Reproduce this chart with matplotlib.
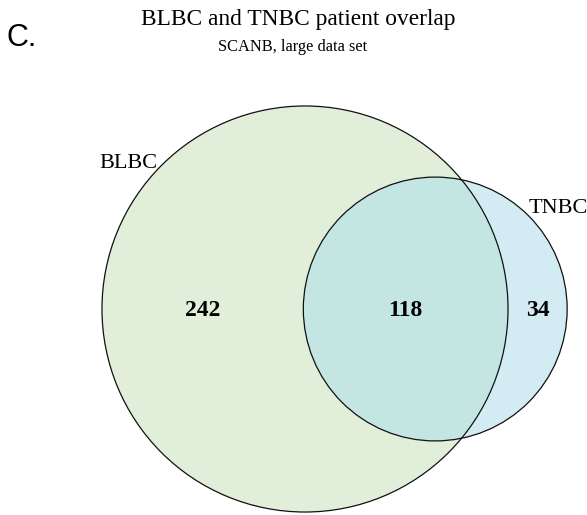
import numpy as np
import matplotlib.pyplot as plt
from matplotlib.patches import Circle

# set sizes
set_names = ['BLBC', 'TNBC']
only_a = 242
both = 118
only_b = 34

title = 'BLBC and TNBC patient overlap'
subtitle = 'SCANB, large data set'
panel = 'C.'

col_a = '#e1eed9'
col_b = '#d3ebf3'
col_ab = '#c4e6e3'


def lens_area(r1, r2, d):
    if d >= r1 + r2:
        return 0.0
    if d <= abs(r1 - r2):
        return np.pi * min(r1, r2) ** 2
    a1 = r1 ** 2 * np.arccos((d ** 2 + r1 ** 2 - r2 ** 2) / (2 * d * r1))
    a2 = r2 ** 2 * np.arccos((d ** 2 + r2 ** 2 - r1 ** 2) / (2 * d * r2))
    a3 = 0.5 * np.sqrt((-d + r1 + r2) * (d + r1 - r2) * (d - r1 + r2) * (d + r1 + r2))
    return a1 + a2 - a3


# area-proportional layout, scaled to pixel units
k = 10.7
r_a = k * np.sqrt(only_a + both)
r_b = k * np.sqrt(only_b + both)
target = both * k ** 2 * np.pi
lo, hi = abs(r_a - r_b), r_a + r_b
for _ in range(100):
    mid = (lo + hi) / 2
    if lens_area(r_a, r_b, mid) > target:
        lo = mid
    else:
        hi = mid
d = (lo + hi) / 2

ca = (305, 309)
cb = (ca[0] + d, ca[1])

fig = plt.figure(figsize=(5.87, 5.15), dpi=100)
ax = fig.add_axes([0, 0, 1, 1])
ax.set_xlim(0, 587)
ax.set_ylim(515, 0)
ax.set_aspect('equal')
ax.axis('off')

circ_a = Circle(ca, r_a, facecolor=col_a, edgecolor='none', zorder=1)
ax.add_patch(circ_a)
ax.add_patch(Circle(cb, r_b, facecolor=col_b, edgecolor='none', zorder=2))
ov = Circle(cb, r_b, facecolor=col_ab, edgecolor='none', zorder=3)
ax.add_patch(ov)
ov.set_clip_path(circ_a)
for c, r in [(ca, r_a), (cb, r_b)]:
    ax.add_patch(Circle(c, r, facecolor='none', edgecolor='#111111', lw=0.9, zorder=4))

# region counts
num_kw = dict(family='Liberation Serif', fontweight='bold', fontsize=17,
              ha='center', va='center', zorder=5)
ax.text(((ca[0] - r_a) + (cb[0] - r_b)) / 2, 310, str(only_a), **num_kw)
ax.text(((cb[0] - r_b) + (ca[0] + r_a)) / 2, 310, str(both), **num_kw)
ax.text(((ca[0] + r_a) + (cb[0] + r_b)) / 2, 310, str(only_b), **num_kw)

# set labels
ang = np.deg2rad(135)
ax.text(ca[0] + r_a * np.cos(ang) - 4, ca[1] - r_a * np.sin(ang) - 2, set_names[0],
        family='Liberation Serif', fontsize=16, ha='right', va='center')
ang = np.deg2rad(47)
ax.text(cb[0] + r_b * np.cos(ang) + 3, cb[1] - r_b * np.sin(ang) - 4, set_names[1],
        family='Liberation Serif', fontsize=16, ha='left', va='center')

fig.text(298 / 587, 1 - 19 / 515, title, family='Liberation Serif', fontsize=16.8,
         ha='center', va='center')
fig.text(293 / 587, 1 - 47 / 515, subtitle, family='Liberation Serif', fontsize=11.8,
         ha='center', va='center')
fig.text(6 / 587, 1 - 38 / 515, panel, family='Liberation Sans', fontsize=22,
         ha='left', va='center')

fig.savefig('out.png', dpi=100)
